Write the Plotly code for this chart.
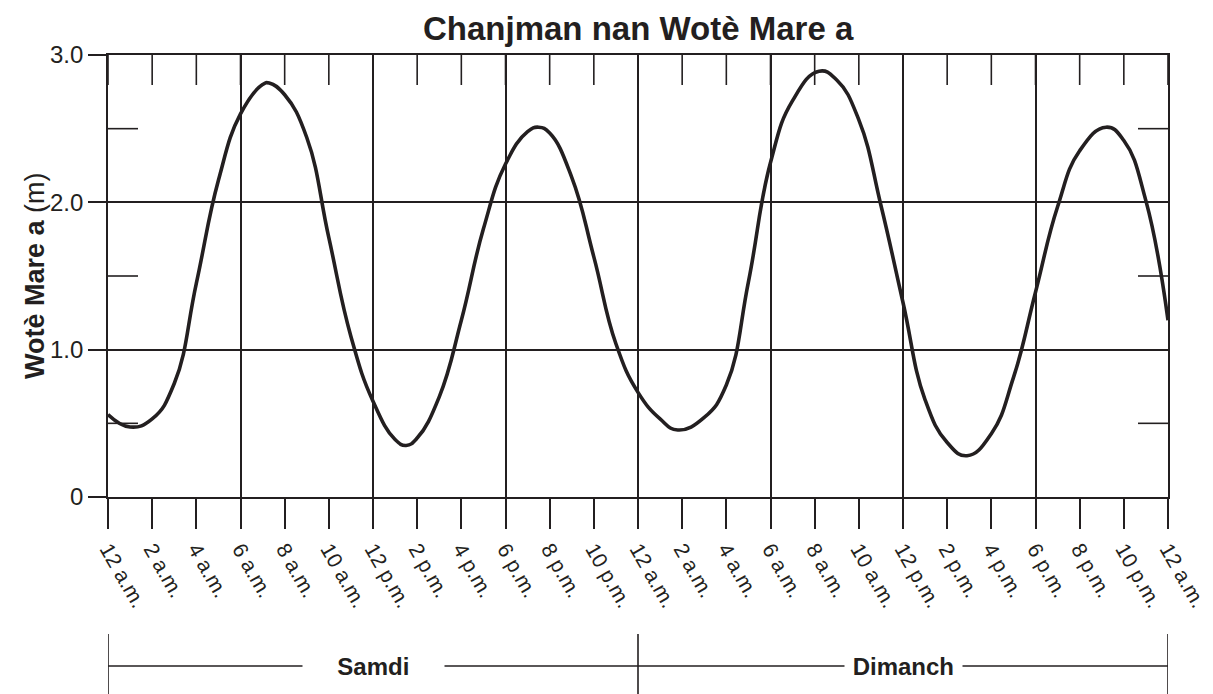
import plotly.graph_objects as go

# ---- data ----
hours = [0, 1, 2, 3, 4, 5, 6, 7, 7.3, 8, 9, 10, 11, 12, 13, 13.5, 14, 15, 16, 17, 18, 19, 19.5, 20,
         21, 22, 23, 24, 25, 25.8, 27, 28, 29, 30, 31, 32.2, 33, 34, 35, 36, 37, 38, 38.9, 40,
         41, 42, 43, 44, 45.2, 46, 47, 48]
level = [0.56, 0.475, 0.53, 0.77, 1.45, 2.15, 2.60, 2.80, 2.81, 2.73, 2.44, 1.76, 1.09, 0.65, 0.39, 0.35, 0.40, 0.68, 1.20, 1.82, 2.26, 2.48, 2.51, 2.47,
         2.17, 1.63, 1.04, 0.71, 0.53, 0.455, 0.54, 0.76, 1.46, 2.27, 2.69, 2.89, 2.83, 2.56, 1.98, 1.32, 0.66, 0.37, 0.28, 0.43,
         0.81, 1.39, 1.97, 2.35, 2.51, 2.42, 2.01, 1.20]

tick_hours = list(range(0, 49, 2))
tick_labels = ["12 a.m.", "2 a.m.", "4 a.m.", "6 a.m.", "8 a.m.", "10 a.m.",
               "12 p.m.", "2 p.m.", "4 p.m.", "6 p.m.", "8 p.m.", "10 p.m.",
               "12 a.m.", "2 a.m.", "4 a.m.", "6 a.m.", "8 a.m.", "10 a.m.",
               "12 p.m.", "2 p.m.", "4 p.m.", "6 p.m.", "8 p.m.", "10 p.m.", "12 a.m."]
y_major = [0, 1, 2, 3]
y_major_labels = ["0", "1.0", "2.0", "3.0"]
y_minor = [0.5, 1.5, 2.5]
day_names = ["Samdi", "Dimanch"]
day_bounds = [0, 24, 48]

title = "Chanjman nan Wotè Mare a"
ytitle = "<b>Wotè Mare a</b> (m)"

# ---- layout constants ----
W, H = 1213, 694
L, R, T, B = 108, 45, 55, 197
PH = H - T - B
INK = "#231f20"
FONT = "Liberation Sans, Arial, sans-serif"


def py(pixel_y):
    return (H - B - pixel_y) / PH


fig = go.Figure()
fig.add_trace(go.Scatter(x=hours, y=level, mode="lines",
                         line=dict(color=INK, width=3.6, shape="spline", smoothing=1.3),
                         hoverinfo="skip", showlegend=False))

shapes = []
# short inner ticks on top edge (every 2 h)
for h in tick_hours:
    shapes.append(dict(type="line", xref="x", yref="y", ysizemode="pixel", yanchor=3,
                       x0=h, x1=h, y0=0, y1=-30, line=dict(color=INK, width=1.6)))
# short inner ticks at the left and right edges
for v in y_minor:
    shapes.append(dict(type="line", xref="x", yref="y", xsizemode="pixel", xanchor=0,
                       x0=0, x1=30, y0=v, y1=v, line=dict(color=INK, width=1.6)))
    shapes.append(dict(type="line", xref="x", yref="y", xsizemode="pixel", xanchor=48,
                       x0=-30, x1=0, y0=v, y1=v, line=dict(color=INK, width=1.6)))

# day bracket below the chart
yl = py(666)
shapes.append(dict(type="line", xref="x", yref="paper", x0=day_bounds[0], x1=day_bounds[-1],
                   y0=yl, y1=yl, line=dict(color=INK, width=1.4)))
for d in day_bounds:
    shapes.append(dict(type="line", xref="x", yref="paper", x0=d, x1=d,
                       y0=py(634), y1=py(700), line=dict(color=INK, width=1.6)))

annotations = []
pads = ["\u00a0" * 5, "\u00a0"]
for i, name in enumerate(day_names):
    mid = (day_bounds[i] + day_bounds[i + 1]) / 2
    annotations.append(dict(x=mid, xref="x", y=yl, yref="paper", yanchor="middle",
                            text=pads[i] + "<b>" + name + "</b>" + pads[i], showarrow=False,
                            bgcolor="white", font=dict(size=24, color=INK, family=FONT)))
annotations.append(dict(x=(18 - L) / (W - L - R), xref="paper", y=0.5, yref="paper",
                        text=ytitle, textangle=-90, showarrow=False,
                        font=dict(size=27, color=INK, family=FONT)))
annotations.append(dict(x=0.5, xref="paper", y=py(29), yref="paper", yanchor="middle",
                        text="<b>" + title + "</b>", showarrow=False,
                        font=dict(size=33, color=INK, family=FONT)))

fig.update_layout(
    width=W, height=H, autosize=False,
    margin=dict(l=L, r=R, t=T, b=B, autoexpand=False),
    plot_bgcolor="white", paper_bgcolor="white",
    font=dict(family=FONT, color=INK),
    shapes=shapes, annotations=annotations,
    xaxis=dict(range=[0, 48], tickvals=tick_hours, ticktext=tick_labels, tickangle=60,
               automargin=False,
               ticks="outside", ticklen=30, tickwidth=1.6, tickcolor=INK,
               tickfont=dict(size=21, color=INK, family=FONT),
               showline=True, linecolor=INK, linewidth=1.8, mirror=True,
               showgrid=False, zeroline=False,
               minor=dict(dtick=6, tick0=0, showgrid=True, gridcolor=INK, gridwidth=1.8, ticks="")),
    yaxis=dict(range=[0, 3], tickvals=y_major, ticktext=y_major_labels, automargin=False,
               ticks="outside", ticklen=18, tickwidth=1.6, tickcolor=INK,
               tickfont=dict(size=24, color=INK, family=FONT),
               showline=True, linecolor=INK, linewidth=1.8, mirror=True,
               showgrid=True, gridcolor=INK, gridwidth=1.8, zeroline=False),
)

fig.write_html("out.html", config={"displayModeBar": False, "responsive": False},
               post_script="document.body.style.margin='0';")
